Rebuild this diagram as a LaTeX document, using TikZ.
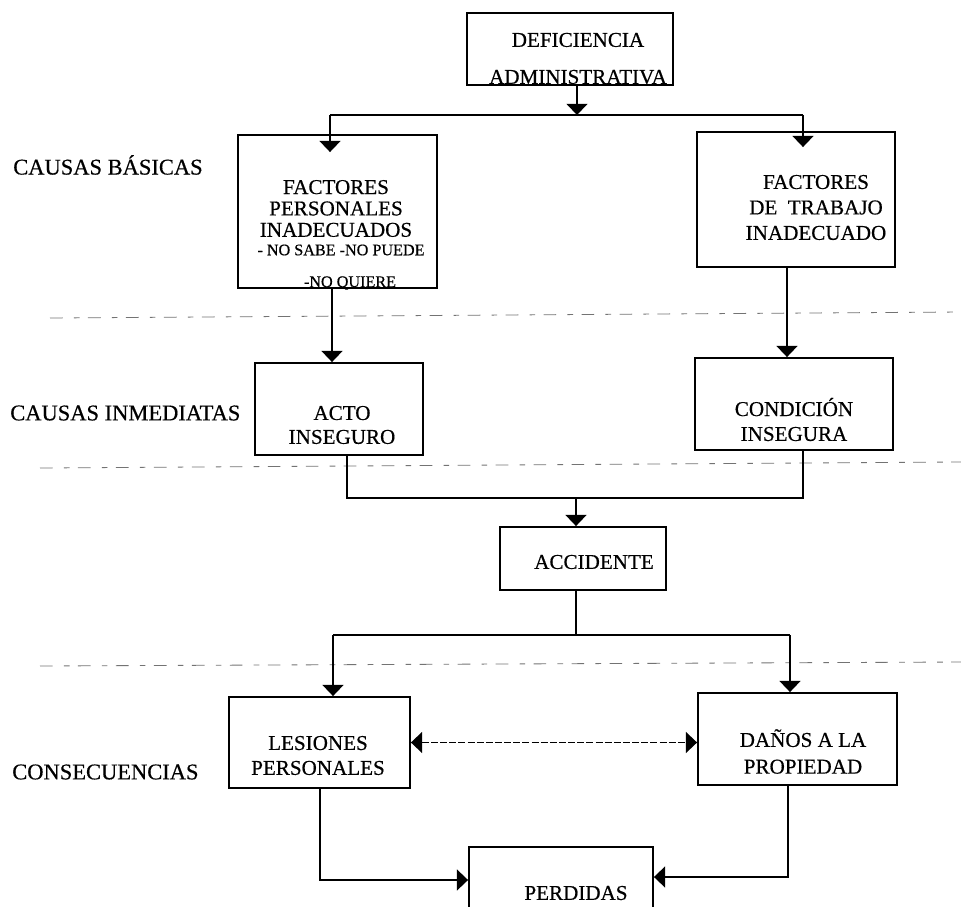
\documentclass[tikz,border=0pt]{standalone}
\usepackage{fontspec}
\setmainfont{Liberation Serif}[FakeBold=0.5]
\usetikzlibrary{arrows.meta,positioning,calc}

\begin{document}
\begin{tikzpicture}[x=0.025cm, y=-0.025cm,
    >={Triangle[width=15pt,length=8pt]},
    box/.style={draw, rectangle, line width=1.3pt, inner sep=0pt},
    txt/.style={align=center, inner sep=0pt, font=\fontsize{15}{18}\selectfont},
    note/.style={inner sep=0pt, font=\fontsize{11.5}{13}\selectfont},
    lbl/.style={anchor=west, inner sep=0pt, font=\fontsize{16}{18}\selectfont},
    link/.style={line width=1.2pt},
    sep/.style={black!55, line width=0.6pt, dash pattern=on 9pt off 8pt on 4pt off 6pt}
]
    \useasboundingbox (0,0) rectangle (961,907);
    \clip (0,0) rectangle (961,907);

    % Boxes
    \node[box, minimum width=5.15cm, minimum height=1.8cm] (def) at (570,49) {};
    \node[box, minimum width=4.975cm, minimum height=3.825cm] (fp) at (337.5,211.5) {};
    \node[box, minimum width=4.95cm, minimum height=3.375cm] (ft) at (796,199.5) {};
    \node[box, minimum width=4.2cm, minimum height=2.3cm] (acto) at (339,409) {};
    \node[box, minimum width=4.95cm, minimum height=2.3cm] (cond) at (794,404) {};
    \node[box, minimum width=4.15cm, minimum height=1.575cm] (acc) at (583,558.5) {};
    \node[box, minimum width=4.525cm, minimum height=2.275cm] (les) at (319.5,742.5) {};
    \node[box, minimum width=4.975cm, minimum height=2.3cm] (dan) at (797.5,739) {};
    \node[box, minimum width=4.6cm, minimum height=2.3cm] (per) at (561,893) {};

    % Texts
    \node[txt, font=\fontsize{15}{26.3}\selectfont] (deftxt) at (578,58.5) {DEFICIENCIA\\ADMINISTRATIVA};
    \node[txt, font=\fontsize{15}{15.2}\selectfont] (fptxt) at (336,208.5) {FACTORES\\PERSONALES\\INADECUADOS};
    \node[note] (nosabe) at (341,250) {- NO SABE -NO PUEDE};
    \node[note] (noquiere) at (350,283) {-NO QUIERE};
    \node[txt, font=\fontsize{15}{18.1}\selectfont] (fttxt) at (816,207.5) {FACTORES\\DE~~TRABAJO\\INADECUADO};
    \node[txt, font=\fontsize{15}{17}\selectfont] (actotxt) at (342,425) {ACTO\\INSEGURO};
    \node[txt, font=\fontsize{15}{17.7}\selectfont] (condtxt) at (794,419.5) {CONDICIÓN\\INSEGURA};
    \node[txt] (acctxt) at (594,562) {ACCIDENTE};
    \node[txt, font=\fontsize{15}{17.7}\selectfont] (lestxt) at (318,755.5) {LESIONES\\PERSONALES};
    \node[txt, font=\fontsize{15}{19}\selectfont] (dantxt) at (803,751.5) {DAÑOS A LA\\PROPIEDAD};
    \node[txt] (pertxt) at (576,893) {PERDIDAS};

    % Row labels
    \node[lbl] (basicas) at (13,165) {CAUSAS BÁSICAS};
    \node[lbl] (inmediatas) at (10,413) {CAUSAS INMEDIATAS};
    \node[lbl] (consec) at (12,772) {CONSECUENCIAS};

    % Separators
    \draw[sep] (50,318) -- (961,312);
    \draw[sep] (40,468) -- (961,462);
    \draw[sep] (40,666) -- (961,662);

    % Upper connectors
    \coordinate (b1) at (577,115);
    \coordinate (b1l) at (330,115);
    \coordinate (b1r) at (803,115);
    \draw[link,->] (b1 |- def.south) -- (b1);
    \draw[link] (b1l) -- (b1r);
    \draw[link,->] (b1l) -- ($(b1l |- fp.north)+(0,18)$);
    \draw[link,->] (b1r) -- ($(b1r |- ft.north)+(0,16)$);

    \coordinate (fpout) at ($(fp.south)+(-5.5,0)$);
    \coordinate (ftout) at ($(ft.south)+(-9,0)$);
    \draw[link,->] (fpout) -- (fpout |- acto.north);
    \draw[link,->] (ftout) -- (ftout |- cond.north);

    % Join to accident
    \coordinate (actoout) at ($(acto.south)+(8,0)$);
    \coordinate (condout) at ($(cond.south)+(9,0)$);
    \coordinate (j) at (576,498);
    \draw[link] (actoout) |- (j) -| (condout);
    \draw[link,->] (j) -- (j |- acc.north);

    % Consequences
    \coordinate (accout) at ($(acc.south)+(-7,0)$);
    \coordinate (b2l) at (333,635);
    \coordinate (b2r) at (790,635);
    \draw[link] (accout) -- (accout |- b2l);
    \draw[link] (b2l) -- (b2r);
    \draw[link,->] (b2l) -- (b2l |- les.north);
    \draw[link,->] (b2r) -- (b2r |- dan.north);
    \draw[line width=0.9pt, dash pattern=on 5pt off 1.5pt, <->] (les.east) -- (les.east -| dan.west);

    % Losses
    \coordinate (lesout) at ($(les.south)+(0.5,0)$);
    \coordinate (perinl) at ($(per.west)+(0,-13)$);
    \coordinate (perinr) at ($(per.east)+(0,-16)$);
    \coordinate (danout) at ($(dan.south)+(-9.5,0)$);
    \draw[link,->] (lesout) |- (perinl);
    \draw[link,->] (danout) |- (perinr);
\end{tikzpicture}
\end{document}
